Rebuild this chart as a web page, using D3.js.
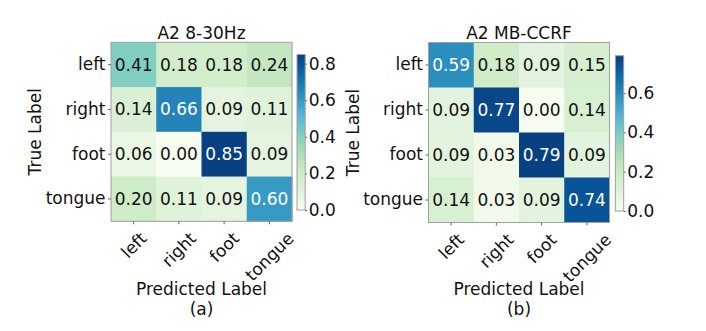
<!DOCTYPE html>
<html><head><meta charset="utf-8">
<script src="https://cdn.jsdelivr.net/npm/d3@7"></script>
<style>
html,body{margin:0;padding:0;background:#fff;}
svg{display:block;font-family:"DejaVu Sans",sans-serif;}
</style></head>
<body>
<svg id="c" width="706" height="331"></svg>
<script>
const classes = ["left","right","foot","tongue"];
const titles = ["A2 8-30Hz","A2 MB-CCRF"];
const captions = ["(a)","(b)"];
const matrixA = [
  [0.41,0.18,0.18,0.24],
  [0.14,0.66,0.09,0.11],
  [0.06,0.00,0.85,0.09],
  [0.20,0.11,0.09,0.60]
];
const matrixB = [
  [0.59,0.18,0.09,0.15],
  [0.09,0.77,0.00,0.14],
  [0.09,0.03,0.79,0.09],
  [0.14,0.03,0.09,0.74]
];
const cbTicks = [[0,0.2,0.4,0.6,0.8],[0,0.2,0.4,0.6]];
const gnbu = ["#f7fcf0","#e0f3db","#ccebc5","#a8ddb5","#7bccc4","#4eb3d3","#2b8cbe","#0868ac","#084081"];

const svg = d3.select("#c");
const FS = 17;
const panels = [
  {m: matrixA, x0: 111, y0: 42.3, w: 181, h: 179, cbx: 297, cby: 54.5, cbw: 8.2, cbh: 155.5, ylabX: 41},
  {m: matrixB, x0: 428.5, y0: 42.5, w: 181, h: 180, cbx: 615.4, cby: 55.7, cbw: 8.3, cbh: 155.3, ylabX: 358.5}
];

panels.forEach((p, pi) => {
  const m = p.m;
  const vmax = d3.max(m.flat());
  const color = d3.scaleLinear()
    .domain(gnbu.map((_, i) => vmax * i / (gnbu.length - 1)))
    .range(gnbu).interpolate(d3.interpolateRgb).clamp(true);
  const x = d3.scaleBand().domain(classes).range([p.x0, p.x0 + p.w]);
  const y = d3.scaleBand().domain(classes).range([p.y0, p.y0 + p.h]);
  const g = svg.append("g");
  const cells = [];
  m.forEach((row, r) => row.forEach((v, c) => cells.push({r, c, v})));
  g.selectAll("rect.cell").data(cells).join("rect")
    .attr("class","cell")
    .attr("x", d => x(classes[d.c])).attr("y", d => y(classes[d.r]))
    .attr("width", x.bandwidth() + 0.5).attr("height", y.bandwidth() + 0.5)
    .attr("fill", d => color(d.v));
  g.selectAll("text.val").data(cells).join("text")
    .attr("class","val")
    .attr("x", d => x(classes[d.c]) + x.bandwidth()/2)
    .attr("y", d => y(classes[d.r]) + y.bandwidth()/2)
    .attr("text-anchor","middle").attr("dominant-baseline","central")
    .attr("font-size", FS)
    .attr("fill", d => d.v > vmax/2 ? "#fff" : "#111")
    .text(d => d.v.toFixed(2));
  g.append("rect").attr("x", p.x0).attr("y", p.y0).attr("width", p.w).attr("height", p.h)
    .attr("fill","none").attr("stroke","#a0a0a0").attr("stroke-width",1);

  // y axis
  const ya = svg.append("g").attr("transform",`translate(${p.x0},0)`)
    .call(d3.axisLeft(y).tickSize(3).tickPadding(2.5));
  ya.select(".domain").remove();
  ya.selectAll("line").attr("stroke","#666");
  ya.selectAll("text").attr("font-size",FS).attr("fill","#111").attr("font-family","DejaVu Sans");
  // x axis
  const xa = svg.append("g").attr("transform",`translate(0,${p.y0 + p.h})`)
    .call(d3.axisBottom(x).tickSize(3).tickFormat(""));
  xa.select(".domain").remove();
  xa.selectAll("line").attr("stroke","#666");
  const topY = p.y0 + p.h + 7.5;
  classes.forEach(cl => {
    const t = svg.append("text").attr("font-size",FS).attr("text-anchor","middle")
      .attr("dominant-baseline","central").attr("fill","#111").text(cl);
    const len = t.node().getComputedTextLength();
    const half = (len + FS * 1.1) * Math.SQRT1_2 / 2;
    t.attr("transform",`translate(${x(cl) + x.bandwidth()/2},${topY + half}) rotate(-45)`);
  });

  const cx = p.x0 + p.w/2;
  svg.append("text").attr("x", cx).attr("y", 38.5).attr("text-anchor","middle")
    .attr("font-size",FS).attr("fill","#111").text(titles[pi]);
  svg.append("text").attr("x", cx).attr("y", 294.5).attr("text-anchor","middle")
    .attr("font-size",FS).attr("fill","#111").text("Predicted Label");
  svg.append("text").attr("x", cx).attr("y", 315).attr("text-anchor","middle")
    .attr("font-size",FS).attr("fill","#111").text(captions[pi]);
  svg.append("text").attr("transform",`translate(${p.ylabX},${p.y0 + p.h/2}) rotate(-90)`)
    .attr("text-anchor","middle").attr("font-size",FS).attr("fill","#111").text("True Label");

  // colorbar
  const gid = "grad" + pi;
  const grad = svg.append("defs").append("linearGradient").attr("id", gid)
    .attr("x1","0").attr("y1","1").attr("x2","0").attr("y2","0");
  gnbu.forEach((c, i) => grad.append("stop").attr("offset", i/(gnbu.length-1)).attr("stop-color", c));
  svg.append("rect").attr("x", p.cbx).attr("y", p.cby).attr("width", p.cbw).attr("height", p.cbh)
    .attr("fill",`url(#${gid})`).attr("stroke","#a0a0a0").attr("stroke-width",1);
  const cs = d3.scaleLinear().domain([0, vmax]).range([p.cby + p.cbh, p.cby]);
  const ca = svg.append("g").attr("transform",`translate(${p.cbx + p.cbw},0)`)
    .call(d3.axisRight(cs).tickValues(cbTicks[pi]).tickFormat(d3.format(".1f")).tickSize(2).tickPadding(1.5));
  ca.select(".domain").remove();
  ca.selectAll("line").attr("stroke","#666");
  ca.selectAll("text").attr("font-size",FS).attr("fill","#111").attr("font-family","DejaVu Sans");
});
</script>
</body></html>
